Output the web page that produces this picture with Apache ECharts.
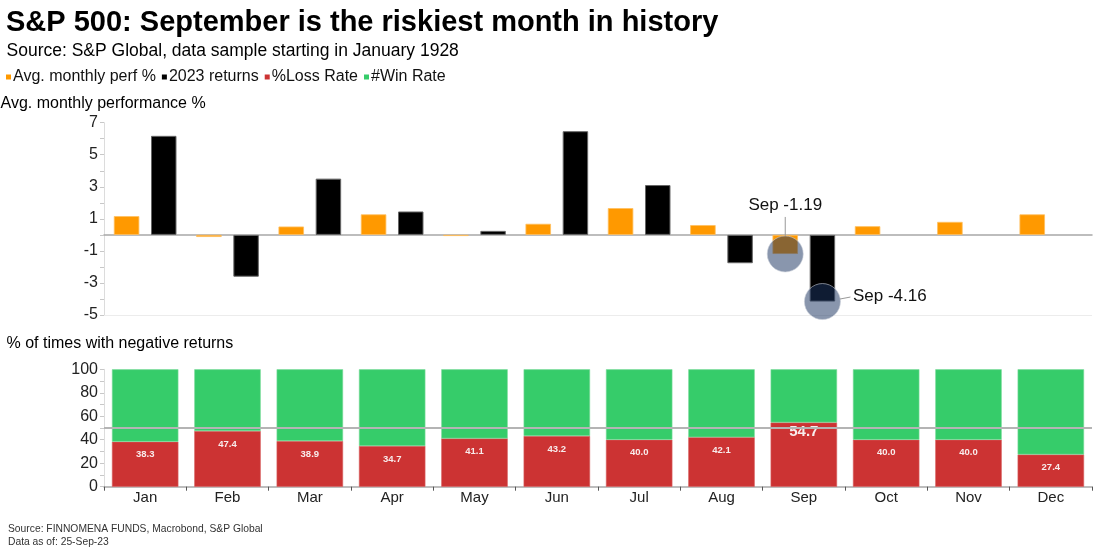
<!DOCTYPE html>
<html><head><meta charset="utf-8">
<script src="https://cdn.jsdelivr.net/npm/echarts@6/dist/echarts.min.js"></script>
<style>html,body{margin:0;padding:0;background:#fff}#c{width:1110px;height:555px}</style>
</head><body><div id="c"></div>
<script>
const months = ['Jan','Feb','Mar','Apr','May','Jun','Jul','Aug','Sep','Oct','Nov','Dec'];
const avgPerf = [1.17,-0.13,0.52,1.28,-0.07,0.69,1.67,0.61,-1.19,0.54,0.81,1.28];
const returns2023 = [6.18,-2.61,3.51,1.46,0.25,6.47,3.11,-1.77,-4.16,null,null,null];
const lossRate = [38.3,47.4,38.9,34.7,41.1,43.2,40.0,42.1,54.7,40.0,40.0,27.4];
const winRate = [61.7,52.6,61.1,65.3,58.9,56.8,60.0,57.9,45.3,60.0,60.0,72.6];
const topTickLabels = [-5,-3,-1,1,3,5,7];
const bottomTickLabels = [0,20,40,60,80,100];
const annotMonth = 'Sep';

const FF = '"Liberation Sans", Arial, Helvetica, sans-serif';
const BAR_GAP = 0.46, CAT_GAP = 0.239;
const annotIdx = months.indexOf(annotMonth);
const maxLossIdx = lossRate.indexOf(Math.max(...lossRate));

const chart = echarts.init(document.getElementById('c'), null, {renderer: 'canvas'});

const annotData = [
  {value: [annotIdx, avgPerf[annotIdx]], side: -1, pos: 'top'},
  {value: [annotIdx, returns2023[annotIdx]], side: 1, pos: 'right'}
];

function renderAnnot(params, api) {
  const d = annotData[params.dataIndex];
  const c = api.coord([api.value(0), api.value(1)]);
  const band = api.size([1, 0])[0];
  const bw = band * (1 - CAT_GAP) / (2 + BAR_GAP);
  const cx = c[0] + d.side * bw * (1 + BAR_GAP) / 2;
  const cy = c[1];
  const r = 18;
  const txt = annotMonth + ' ' + api.value(1).toFixed(2);
  const children = [{
    type: 'circle', shape: {cx: cx, cy: cy, r: r},
    style: {fill: 'rgba(29,54,98,0.52)', stroke: 'rgba(200,205,215,0.6)', lineWidth: 1}
  }];
  if (d.pos === 'top') {
    children.push({type: 'line', shape: {x1: cx, y1: cy - r, x2: cx, y2: cy - r - 19},
      style: {stroke: '#999', lineWidth: 1}});
    children.push({type: 'text', style: {text: txt, x: cx, y: cy - r - 31,
      align: 'center', verticalAlign: 'middle', font: '17px ' + FF, fill: '#111'}});
  } else {
    children.push({type: 'line', shape: {x1: cx + r - 0.5, y1: cy - 2.5, x2: cx + r + 10, y2: cy - 4.5},
      style: {stroke: '#999', lineWidth: 1}});
    children.push({type: 'text', style: {text: txt, x: cx + r + 12.5, y: cy - 5.5,
      align: 'left', verticalAlign: 'middle', font: '17px ' + FF, fill: '#111'}});
  }
  return {type: 'group', children: children};
}

function txt(text, x, y, size, opts) {
  opts = opts || {};
  return {type: 'text', x: x, y: y, silent: true,
    style: {text: text, font: (opts.bold ? 'bold ' : '') + size + 'px ' + FF,
      fill: opts.color || '#000', verticalAlign: 'middle', align: 'left'}};
}

const lossData = lossRate.map((v, i) => i === maxLossIdx
  ? {value: v, label: {fontSize: 15, distance: 2}} : v);

const option = {
  animation: false,
  backgroundColor: '#fff',
  textStyle: {fontFamily: FF},
  graphic: [
    txt('S&P 500: September is the riskiest month in history', 6, 22.5, 29, {bold: true}),
    txt('Source: S&P Global, data sample starting in January 1928', 6.5, 51.5, 17.5),
    txt('Avg. monthly performance %', 0.5, 104, 16),
    txt('% of times with negative returns', 6.5, 343.5, 16),
    txt('Source: FINNOMENA FUNDS, Macrobond, S&P Global', 8, 529, 10.3, {color: '#333'}),
    txt('Data as of: 25-Sep-23', 8, 541.7, 10.3, {color: '#333'})
  ],
  legend: {
    left: 6, top: 69, padding: 0, itemGap: 6, itemWidth: 5, itemHeight: 5, icon: 'rect',
    itemStyle: {borderWidth: 0},
    textStyle: {fontSize: 16, color: '#111', fontFamily: FF, padding: [0, 0, 0, -3]},
    data: ['Avg. monthly perf %', '2023 returns', '%Loss Rate', '#Win Rate']
  },
  grid: [
    {left: 104, right: 18, top: 122.7, height: 192.3},
    {left: 104, right: 18, top: 369.3, height: 117.4}
  ],
  xAxis: [
    {type: 'category', gridIndex: 0, data: months,
      axisLine: {show: true, onZero: true, lineStyle: {color: '#a8a8a8', width: 1.5}},
      axisTick: {show: false}, axisLabel: {show: false}},
    {type: 'category', gridIndex: 1, data: months,
      axisLine: {show: true, lineStyle: {color: '#a8a8a8', width: 1.5}},
      axisTick: {show: true, length: 4, lineStyle: {color: '#555'}},
      axisLabel: {fontSize: 15, color: '#222', margin: 4, fontFamily: FF}}
  ],
  yAxis: [
    {type: 'value', gridIndex: 0, min: -5, max: 7, interval: 1,
      axisLine: {show: true, lineStyle: {color: '#dcdcdc'}},
      axisTick: {show: true, length: 4, lineStyle: {color: '#c8c8c8'}},
      splitLine: {show: false},
      axisLabel: {fontSize: 16, color: '#222', margin: 6, fontFamily: FF,
        formatter: v => topTickLabels.indexOf(v) >= 0 ? String(v) : ''}},
    {type: 'value', gridIndex: 1, min: 0, max: 100, interval: 10,
      axisLine: {show: true, lineStyle: {color: '#dcdcdc'}},
      axisTick: {show: true, length: 4, lineStyle: {color: '#c8c8c8'}},
      splitLine: {show: false},
      axisLabel: {fontSize: 16, color: '#222', margin: 6, fontFamily: FF,
        formatter: v => bottomTickLabels.indexOf(v) >= 0 ? String(v) : ''}}
  ],
  series: [
    {name: 'Avg. monthly perf %', type: 'bar', xAxisIndex: 0, yAxisIndex: 0, data: avgPerf,
      barGap: (BAR_GAP * 100) + '%', barCategoryGap: (CAT_GAP * 100) + '%',
      itemStyle: {color: '#FF9900', borderColor: '#ffbf5e', borderWidth: 0.8},
      markLine: {silent: true, symbol: 'none', label: {show: false},
        lineStyle: {color: '#ececec', width: 1, type: 'solid'},
        data: [{yAxis: -5}]}},
    {name: '2023 returns', type: 'bar', xAxisIndex: 0, yAxisIndex: 0, data: returns2023,
      itemStyle: {color: '#000', borderColor: '#666', borderWidth: 1}},
    {name: 'annot', type: 'custom', xAxisIndex: 0, yAxisIndex: 0, z: 10, silent: true,
      renderItem: renderAnnot, data: annotData.map(d => d.value)},
    {name: '%Loss Rate', type: 'bar', stack: 'r', xAxisIndex: 1, yAxisIndex: 1, data: lossData,
      barCategoryGap: '19.3%',
      itemStyle: {color: '#CC3333', borderColor: '#d96060', borderWidth: 0.6},
      label: {show: true, position: 'insideTop', distance: 8, color: '#f8ecec',
        fontSize: 9.5, fontWeight: 'bold', fontFamily: FF,
        formatter: p => Number(p.value).toFixed(1)},
      markLine: {silent: true, symbol: 'none', label: {show: false}, z: 10,
        lineStyle: {color: '#b4b4b4', width: 2, type: 'solid'},
        data: [{yAxis: 50}]}},
    {name: '#Win Rate', type: 'bar', stack: 'r', xAxisIndex: 1, yAxisIndex: 1, data: winRate,
      itemStyle: {color: '#36CC6A', borderColor: '#7cdc9c', borderWidth: 0.6}}
  ]
};
chart.setOption(option);
</script></body></html>
